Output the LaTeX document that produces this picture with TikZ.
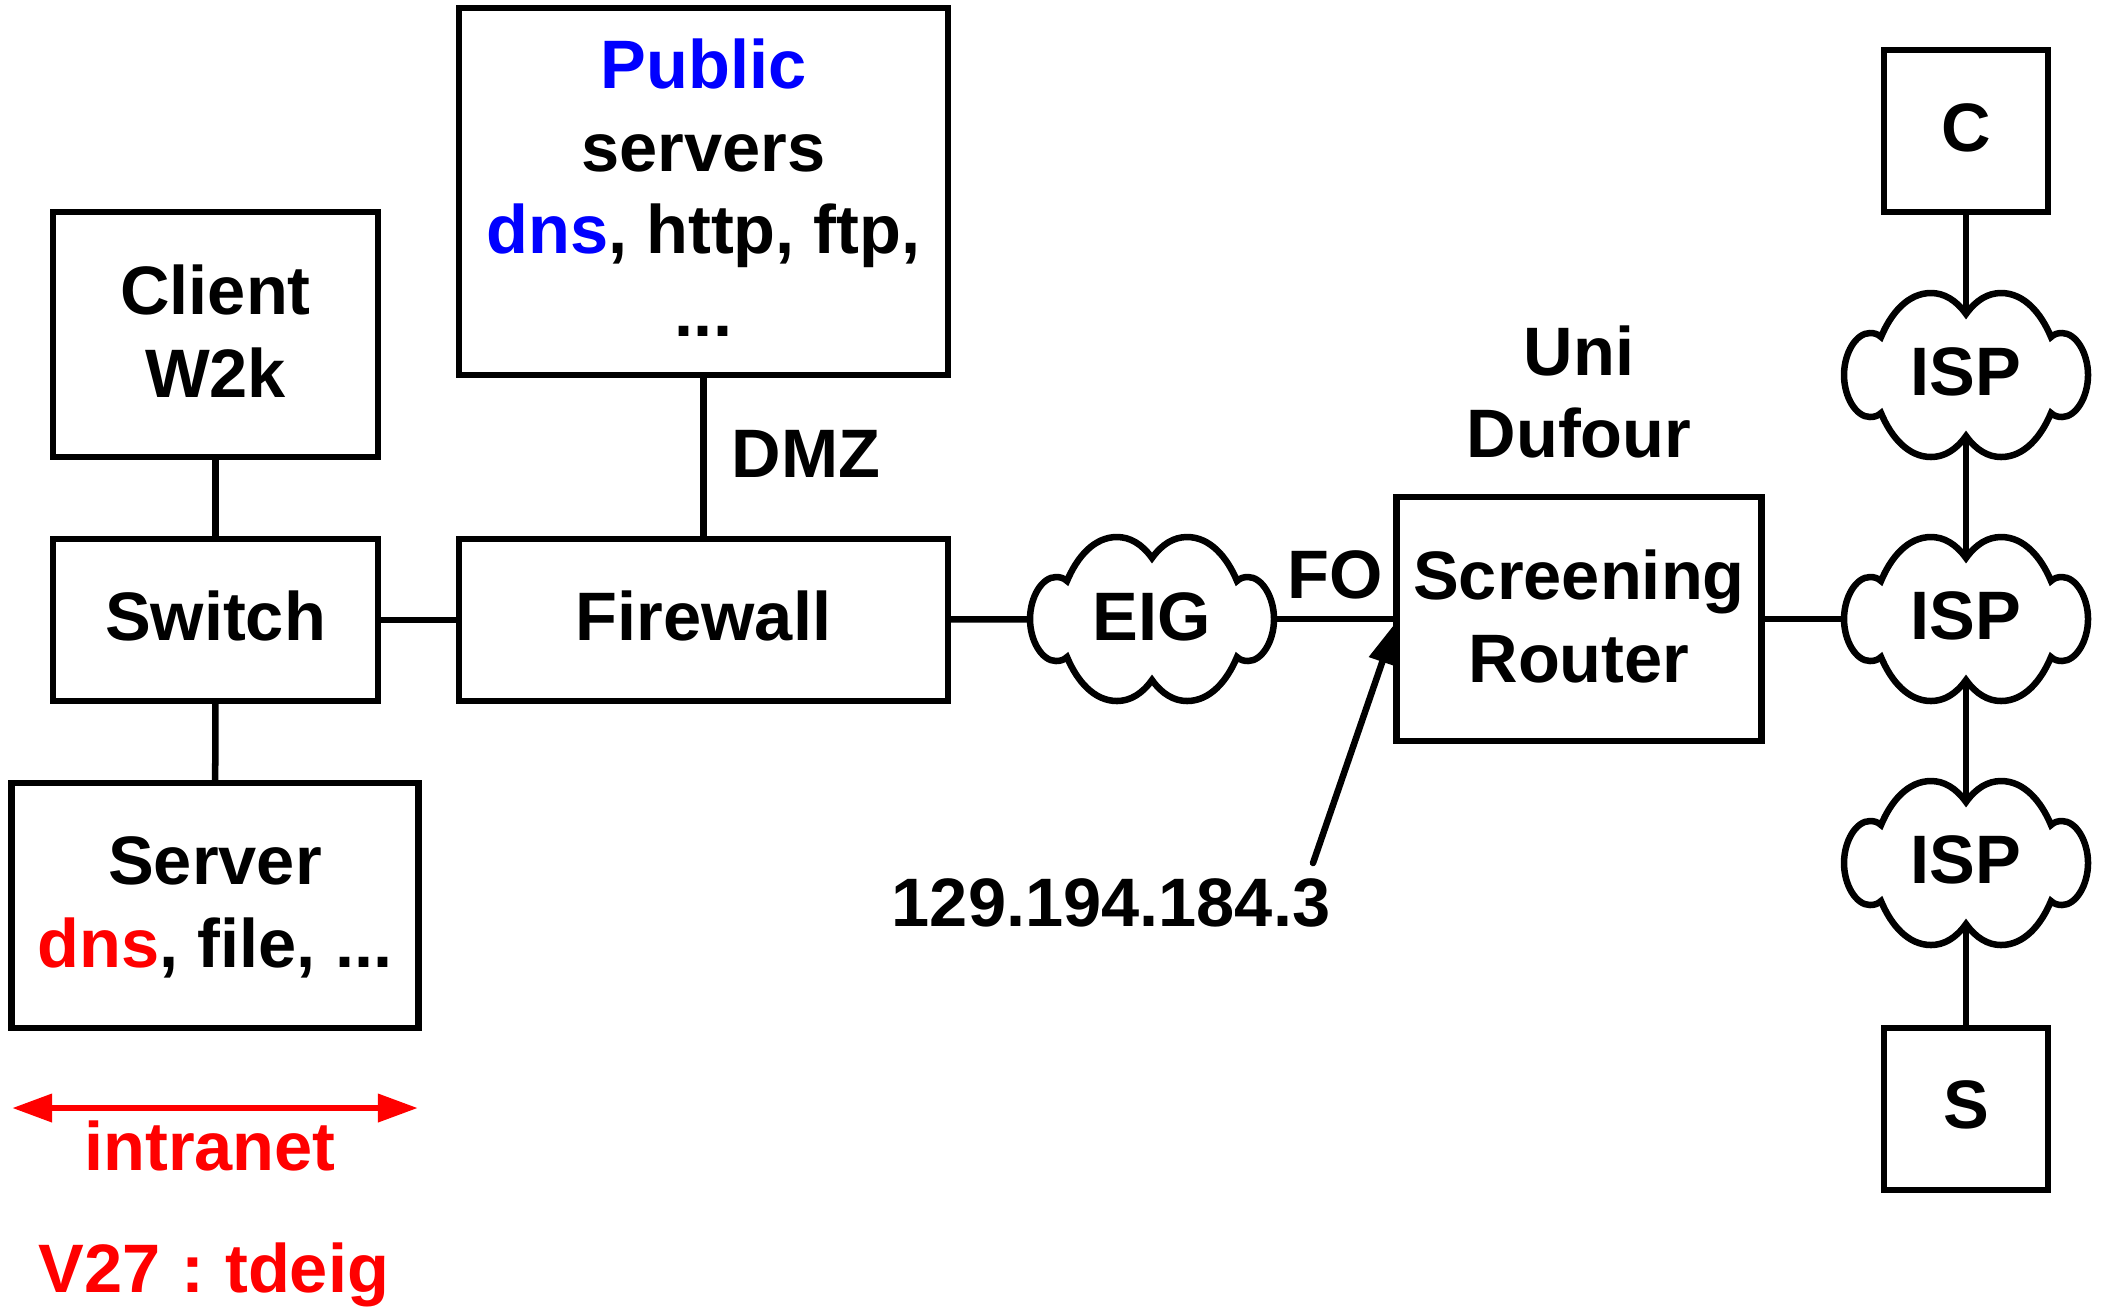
\documentclass[tikz,border=0pt]{standalone}
\usepackage{fontspec}
\setmainfont{Liberation Sans}
\usetikzlibrary{arrows.meta,backgrounds}
\definecolor{pureblue}{RGB}{0,0,255}
\definecolor{purered}{RGB}{255,0,0}
\newcommand{\lift}[1]{\rule[-#1]{0pt}{0pt}}
\tikzset{
  lw/.style={line width=0.065cm},
  box/.style={draw=black,lw,fill=white,align=center,inner sep=0pt,outer sep=0pt,
    font=\fontsize{19.5pt}{23.5pt}\selectfont\bfseries},
  label/.style={align=center,inner sep=0pt,outer sep=0pt,anchor=base,
    font=\fontsize{19.5pt}{23.5pt}\selectfont\bfseries},
  link/.style={draw=black,lw},
  cloudshape/.style={draw=black,lw,fill=white,line join=miter},
  cloudlabel/.style={minimum width=2.44cm,minimum height=1.64cm,inner sep=0pt,outer sep=0pt,
    font=\fontsize{19.5pt}{23.5pt}\selectfont\bfseries},
  pointer/.style={draw=black,lw,line cap=round,-{Triangle[length=0.42cm,width=0.27cm]}},
  span/.style={draw=purered,line width=0.067cm,{Triangle[length=0.40cm,width=0.27cm]}-{Triangle[length=0.40cm,width=0.27cm]}},
}
\newcommand{\netcloud}[4]{%
  \path[cloudshape,shift={(#2,#3)}]
    (0,-61) .. controls (10,-75) and (22,-82) .. (35,-82)
    .. controls (58,-82) and (75,-62) .. (85,-38)
    .. controls (88,-41) and (92,-42) .. (96,-42)
    .. controls (110,-42) and (122,-22) .. (122,0)
    .. controls (122,22) and (110,42) .. (96,42)
    .. controls (92,42) and (88,41) .. (85,38)
    .. controls (75,62) and (58,82) .. (35,82)
    .. controls (22,82) and (10,75) .. (0,61)
    .. controls (-10,75) and (-22,82) .. (-35,82)
    .. controls (-58,82) and (-75,62) .. (-85,38)
    .. controls (-88,41) and (-92,42) .. (-96,42)
    .. controls (-110,42) and (-122,22) .. (-122,0)
    .. controls (-122,-22) and (-110,-42) .. (-96,-42)
    .. controls (-92,-42) and (-88,-41) .. (-85,-38)
    .. controls (-75,-62) and (-58,-82) .. (-35,-82)
    .. controls (-22,-82) and (-10,-75) .. (0,-61) -- cycle;
  \node[cloudlabel] (#1) at (#2,#3) {#4};}
\begin{document}
\begin{tikzpicture}[x=0.01cm,y=-0.01cm]
\useasboundingbox (0,0) rectangle (2101,1308);
\node[box,minimum width=3.25cm,minimum height=2.45cm] (client) at (215.5,334.5) {Client\\W2k\lift{2pt}};
\node[box,minimum width=3.25cm,minimum height=1.62cm] (switch) at (215.5,620) {Switch\lift{2.27pt}};
\node[box,minimum width=4.07cm,minimum height=2.45cm] (server) at (215,905.5) {\rule{0pt}{14.6pt}Server\\\textcolor{purered}{dns}, file, ...};
\node[box,minimum width=4.89cm,minimum height=3.67cm] (public) at (703.5,191.5) {\textcolor{pureblue}{Public}\\servers\\\textcolor{pureblue}{dns}, http, ftp,\\...\lift{2.27pt}};
\node[box,minimum width=4.89cm,minimum height=1.62cm] (firewall) at (703.5,620) {Firewall\lift{2.27pt}};
\node[box,minimum width=3.65cm,minimum height=2.44cm] (router) at (1579,619) {Screening\\Router\lift{1.7pt}};
\node[box,minimum width=1.64cm,minimum height=1.62cm] (c) at (1966,131) {C\lift{1.9pt}};
\node[box,minimum width=1.64cm,minimum height=1.62cm] (s) at (1966,1109) {S\lift{2.27pt}};
\netcloud{eig}{1152}{619}{EIG\lift{1.3pt}}
\netcloud{ispa}{1966}{375}{ISP\lift{1.7pt}}
\netcloud{ispb}{1966}{619}{ISP\lift{1.7pt}}
\netcloud{ispc}{1966}{863}{ISP\lift{1.7pt}}
\begin{scope}[on background layer]
\draw[link] (client) -- (switch);
\draw[link] (switch) -- (server);
\draw[link] (switch) -- (firewall);
\draw[link] (public) -- (firewall);
\draw[link] (firewall) -- (eig.center);
\draw[link] (eig.center) -- (eig -| router.west);
\draw[link] (router.east |- ispb) -- (ispb.center);
\draw[link] (c) -- (ispa.center);
\draw[link] (ispa.center) -- (ispb.center);
\draw[link] (ispb.center) -- (ispc.center);
\draw[link] (ispc.center) -- (s);
\end{scope}
\node[label] (dmz) at (806,477) {DMZ};
\node[label] (fo) at (1335,598) {FO};
\node[label] (uni) at (1579,375) {Uni};
\node[label] (dufour) at (1579,457) {Dufour};
\node[label] (ip) at (1111,926) {129.194.184.3};
\node[label,text=purered] (intranet) at (210,1170) {intranet};
\node[label,text=purered] (vlan) at (214,1292) {V27\hspace{5.9pt}:\hspace{5.9pt}tdeig};
\coordinate (ipend) at (1313,863);
\coordinate (iptip) at (1396,622);
\draw[pointer] (ipend) -- (iptip);
\coordinate (spanl) at (12,1108);
\coordinate (spanr) at (418,1108);
\draw[span] (spanl) -- (spanr);
\end{tikzpicture}
\end{document}
